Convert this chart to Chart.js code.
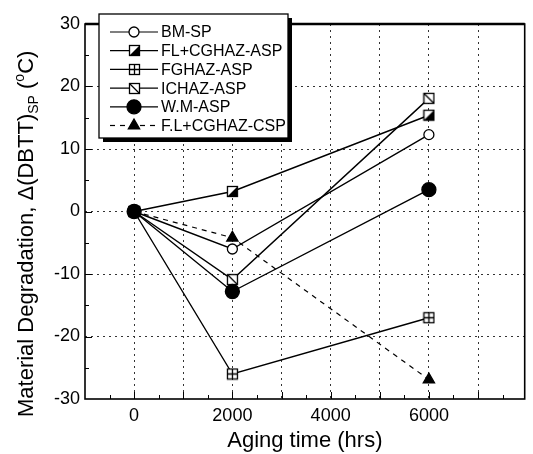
<!DOCTYPE html>
<html>
<head>
<meta charset="utf-8">
<script src="https://cdn.jsdelivr.net/npm/chart.js@4.4.1/dist/chart.umd.min.js"></script>
<style>
  html, body { margin: 0; padding: 0; background: #fff; overflow: hidden; }
  canvas { display: block; }
</style>
</head>
<body>
<canvas id="chart" width="533" height="454"></canvas>
<script>
// aging time (hrs) and DBTT shift (deg C) per region
const agingHours = [0, 2000, 6000];
const bmSp = [0, -6.0, 12.3];
const flCghazAsp = [0, 3.2, 15.4];
const fghazAsp = [0, -26.0, -17.0];
const ichazAsp = [0, -10.9, 18.1];
const wmAsp = [0, -12.8, 3.5];
const flCghazCsp = [0, -4.2, -26.9];

const seriesLabels = ['BM-SP', 'FL+CGHAZ-ASP', 'FGHAZ-ASP', 'ICHAZ-ASP', 'W.M-ASP', 'F.L+CGHAZ-CSP'];
const xTickLabels = [0, 2000, 4000, 6000];
const yTickLabels = [-30, -20, -10, 0, 10, 20, 30];

const FONT = "'Liberation Sans', Arial, sans-serif";

// small square markers drawn on their own canvas
function makeSquare(kind) {
  const c = document.createElement('canvas');
  c.width = 13; c.height = 13;
  const g = c.getContext('2d');
  g.fillStyle = '#fff';
  g.fillRect(1.5, 1.5, 10, 10);
  g.strokeStyle = '#000';
  g.lineWidth = 1.3;
  g.fillStyle = '#000';
  if (kind === 'half') {
    g.beginPath();
    g.moveTo(11.5, 1.5); g.lineTo(11.5, 11.5); g.lineTo(1.5, 11.5);
    g.closePath(); g.fill();
  } else if (kind === 'cross') {
    g.beginPath();
    g.moveTo(6.5, 1.5); g.lineTo(6.5, 11.5);
    g.moveTo(1.5, 6.5); g.lineTo(11.5, 6.5);
    g.stroke();
  } else if (kind === 'diag') {
    g.beginPath();
    g.moveTo(1.5, 1.5); g.lineTo(11.5, 11.5);
    g.stroke();
  }
  g.strokeRect(1.5, 1.5, 10, 10);
  return c;
}

const pts = (ys) => agingHours.map((x, i) => ({ x: x, y: ys[i] }));

function series(label, ys, style, extra) {
  return Object.assign({
    label: label,
    data: pts(ys),
    borderColor: '#000',
    borderWidth: 1.4,
    pointStyle: style,
    pointRadius: 5,
    pointBorderWidth: 1.3,
    pointBorderColor: '#000',
    pointBackgroundColor: '#fff',
    tension: 0
  }, extra || {});
}

const datasets = [
  series(seriesLabels[0], bmSp, 'circle'),
  series(seriesLabels[1], flCghazAsp, makeSquare('half')),
  series(seriesLabels[2], fghazAsp, makeSquare('cross')),
  series(seriesLabels[3], ichazAsp, makeSquare('diag')),
  // weld metal dots sit on top of the others
  series(seriesLabels[4], wmAsp, 'circle', { pointRadius: 7, pointBackgroundColor: '#000', order: -1 }),
  series(seriesLabels[5], flCghazCsp, 'triangle', { pointRadius: 6.5, pointBackgroundColor: '#000', borderDash: [5, 5], borderWidth: 1.2 })
];

// ticks every 500 h on x, every 5 deg on y (labels only on the listed values)
function stepTicks(from, to, step) {
  const out = [];
  for (let v = from; v <= to; v += step) out.push({ value: v });
  return out;
}

// frame, minor ticks, legend box and y title
const decorations = {
  id: 'decorations',
  afterDraw(chart) {
    const ctx = chart.ctx;
    const a = chart.chartArea;
    const xs = chart.scales.x, ys = chart.scales.y;
    ctx.save();
    ctx.strokeStyle = '#000';

    // minor ticks pointing inward
    ctx.lineWidth = 1;
    ctx.beginPath();
    xs.ticks.forEach((t) => {
      const px = Math.round(xs.getPixelForValue(t.value)) + 0.5;
      if (px <= a.left + 2 || px > a.right - 2) return;
      ctx.moveTo(px, a.bottom); ctx.lineTo(px, a.bottom - (t.value % 1000 === 0 ? 7 : 4));
    });
    ys.ticks.forEach((t) => {
      if (Math.abs(t.value) >= 30) return;
      const py = Math.round(ys.getPixelForValue(t.value)) + 0.5;
      ctx.moveTo(a.left, py); ctx.lineTo(a.left + (t.value % 10 === 0 ? 7 : 4), py);
    });
    ctx.stroke();

    // frame
    ctx.lineWidth = 1.6;
    ctx.strokeRect(a.left, a.top, a.right - a.left, a.bottom - a.top);
    ctx.lineWidth = 2.5;
    ctx.beginPath();
    ctx.moveTo(a.left, a.top); ctx.lineTo(a.right, a.top);
    ctx.stroke();

    // legend box with shadow
    const bx = 99, by = 14, bw = 189, bh = 124;
    ctx.fillStyle = '#000';
    ctx.fillRect(bx + 4, by + 4, bw, bh);
    ctx.fillStyle = '#fff';
    ctx.fillRect(bx, by, bw, bh);
    ctx.lineWidth = 1.3;
    ctx.strokeRect(bx, by, bw, bh);

    ctx.font = '16px ' + FONT;
    ctx.textBaseline = 'middle';
    ctx.textAlign = 'left';
    chart.data.datasets.forEach((ds, i) => {
      const y = 32 + i * 18.7;
      ctx.save();
      ctx.strokeStyle = '#000';
      ctx.lineWidth = 1.2;
      ctx.setLineDash(ds.borderDash || []);
      ctx.beginPath();
      ctx.moveTo(110, y); ctx.lineTo(158, y);
      ctx.stroke();
      ctx.restore();
      const cx = 134;
      if (ds.pointStyle instanceof HTMLCanvasElement) {
        ctx.drawImage(ds.pointStyle, Math.round(cx - 6.5), Math.round(y - 6.5));
      } else {
        ctx.fillStyle = ds.pointBackgroundColor;
        ctx.strokeStyle = '#000';
        ctx.lineWidth = 1.3;
        Chart.helpers.drawPoint(ctx, { pointStyle: ds.pointStyle, radius: ds.pointRadius, borderWidth: 1.3 }, cx, y);
      }
      ctx.fillStyle = '#000';
      ctx.fillText(ds.label, 161, y + 1);
    });

    // y axis title with sub/superscripts
    ctx.translate(27, 417);
    ctx.rotate(-Math.PI / 2);
    ctx.textAlign = 'left';
    ctx.textBaseline = 'middle';
    ctx.fillStyle = '#000';
    const big = '22px ' + FONT, small = '14px ' + FONT;
    let x = 0;
    const put = (txt, font, dy) => {
      ctx.font = font;
      ctx.fillText(txt, x, dy);
      x += ctx.measureText(txt).width;
    };
    put('Material Degradation, \u0394(DBTT)', big, 0);
    put('SP', small, 7);
    put(' (', big, 0);
    put('o', small, -7);
    put('C)', big, 0);
    ctx.restore();
  }
};

new Chart(document.getElementById('chart'), {
  type: 'line',
  data: { datasets: datasets },
  plugins: [decorations],
  options: {
    responsive: false,
    animation: false,
    devicePixelRatio: 1,
    layout: { padding: { top: 24, right: 1, left: 0, bottom: 0 } },
    plugins: { legend: { display: false }, tooltip: { enabled: false } },
    scales: {
      x: {
        type: 'linear',
        min: -1000,
        max: 7950,
        afterFit: (s) => { s.height = 55; },
        afterBuildTicks: (s) => { s.ticks = stepTicks(-1000, 7500, 500); },
        border: { display: false, dash: [2, 4] },
        grid: {
          drawTicks: false,
          lineWidth: 1,
          color: (c) => (c.tick && c.tick.value % 1000 === 0 && c.tick.value > -1000) ? '#333' : 'rgba(0,0,0,0)'
        },
        ticks: {
          autoSkip: false,
          maxRotation: 0,
          padding: 6,
          color: '#000',
          font: { family: FONT, size: 18 },
          callback: (v) => xTickLabels.includes(v) ? String(v) : ''
        },
        title: {
          display: true,
          text: 'Aging time (hrs)',
          color: '#000',
          font: { family: FONT, size: 22 },
          padding: { top: 0, bottom: 0 }
        }
      },
      y: {
        min: -30,
        max: 30,
        afterFit: (s) => { s.width = 85; },
        afterBuildTicks: (s) => { s.ticks = stepTicks(-30, 30, 5); },
        border: { display: false, dash: [2, 4] },
        grid: {
          drawTicks: false,
          lineWidth: 1,
          color: (c) => (c.tick && c.tick.value % 10 === 0 && Math.abs(c.tick.value) < 30) ? '#333' : 'rgba(0,0,0,0)'
        },
        ticks: {
          autoSkip: false,
          padding: 5,
          color: '#000',
          font: { family: FONT, size: 18 },
          callback: (v) => yTickLabels.includes(v) ? String(v) : ''
        }
      }
    }
  }
});
</script>
</body>
</html>
